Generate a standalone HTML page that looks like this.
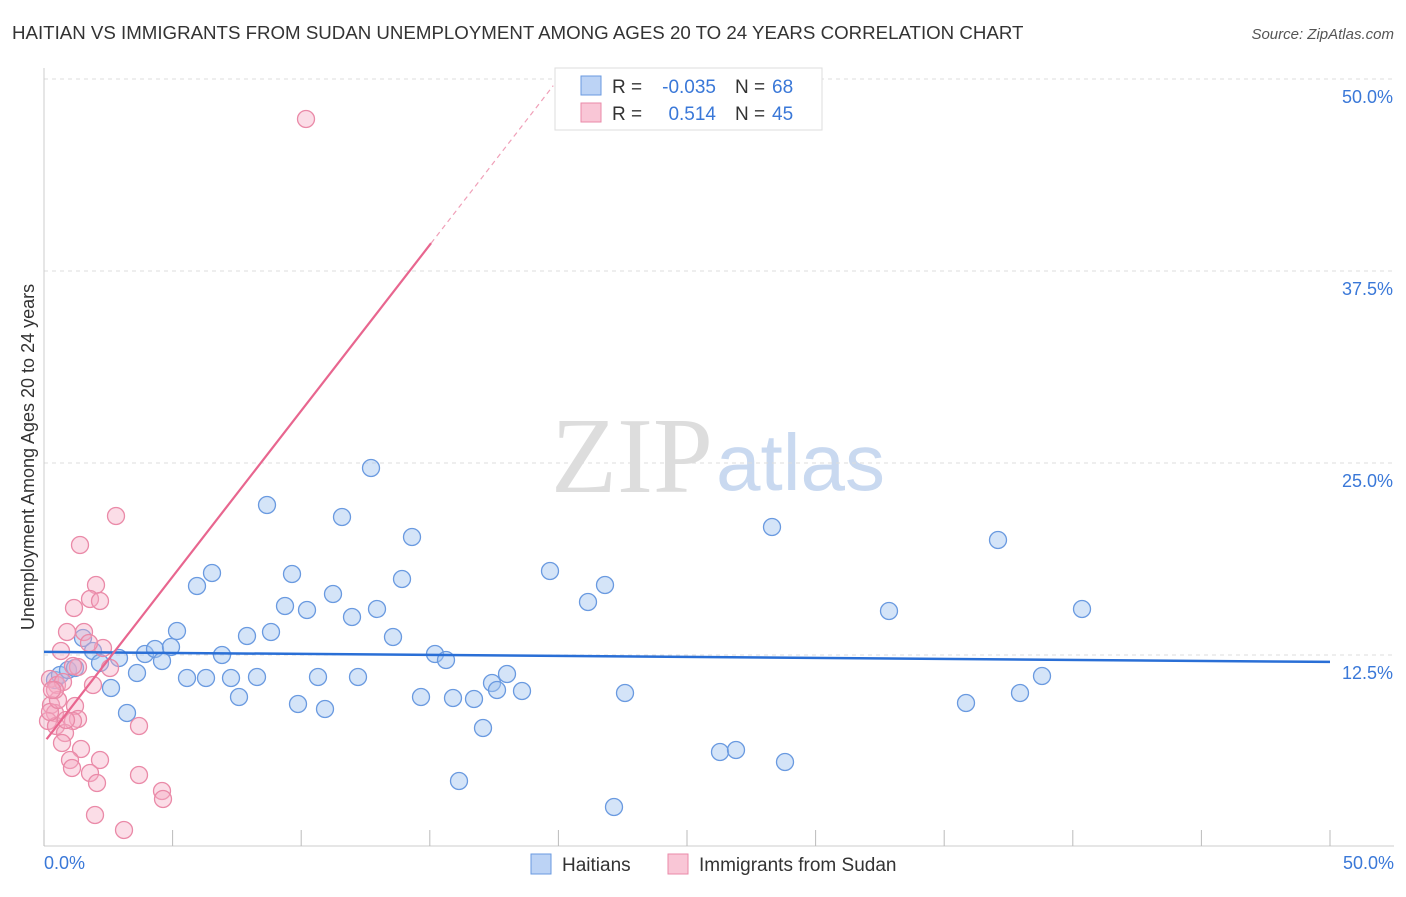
<!DOCTYPE html>
<html><head><meta charset="utf-8"><style>
body{margin:0;background:#fff;font-family:"Liberation Sans",sans-serif;}
svg text{font-family:"Liberation Sans",sans-serif;}
</style></head><body>
<svg id="c" width="1406" height="892">
<text x="12" y="39" font-size="18.7" fill="#333">HAITIAN VS IMMIGRANTS FROM SUDAN UNEMPLOYMENT AMONG AGES 20 TO 24 YEARS CORRELATION CHART</text>
<text x="1394" y="39" font-size="15" fill="#555" text-anchor="end" font-style="italic">Source: ZipAtlas.com</text>
<text x="713" y="492" font-size="108" fill="#ddd" text-anchor="end" style="font-family:'Liberation Serif',serif">ZIP</text>
<text x="716" y="490" font-size="80" fill="#c9d9f0">atlas</text>
<g id="grid"></g>
<g id="marks"></g>
<text transform="translate(34,457) rotate(-90)" font-size="18" fill="#333" text-anchor="middle">Unemployment Among Ages 20 to 24 years</text>
<text x="44" y="869" font-size="18" fill="#3a78d8">0.0%</text>
<text x="1394" y="869" font-size="18" fill="#3a78d8" text-anchor="end">50.0%</text>
<g>
<rect x="555" y="68" width="267" height="62" fill="#fff" stroke="#ddd"/>
<rect x="581" y="76" width="20" height="19" fill="#bcd3f5" stroke="#6a9ae0"/>
<rect x="581" y="103" width="20" height="19" fill="#f9c6d6" stroke="#ea8aa8"/>
<text x="612" y="93" font-size="19" fill="#333">R =</text>
<text x="716" y="93" font-size="19" fill="#3a78d8" text-anchor="end">-0.035</text>
<text x="735" y="93" font-size="19" fill="#333">N =</text>
<text x="772" y="93" font-size="19" fill="#3a78d8">68</text>
<text x="612" y="120" font-size="19" fill="#333">R =</text>
<text x="716" y="120" font-size="19" fill="#3a78d8" text-anchor="end">0.514</text>
<text x="735" y="120" font-size="19" fill="#333">N =</text>
<text x="772" y="120" font-size="19" fill="#3a78d8">45</text>
</g>
<g>
<rect x="531" y="854" width="20" height="20" fill="#bcd3f5" stroke="#6a9ae0"/>
<text x="562" y="871" font-size="19" fill="#333">Haitians</text>
<rect x="668" y="854" width="20" height="20" fill="#f9c6d6" stroke="#ea8aa8"/>
<text x="699" y="871" font-size="19" fill="#333">Immigrants from Sudan</text>
</g>
</svg>
<script>
const yTicks=[12.5,25,37.5,50];
const yTickLabels=["12.5%","25.0%","37.5%","50.0%"];
const xTicks=[0,5,10,15,20,25,30,35,40,45,50];
const blueXpx=[55,60,68,75,83,93,100,111,119,127,137,145,155,162,171,177,187,197,206,212,222,231,239,247,257,267,271,285,292,298,307,318,325,333,342,352,358,371,377,393,402,412,421,435,446,453,459,474,483,492,497,507,522,550,588,605,614,625,720,736,772,785,889,966,998,1020,1042,1082];
const blueYpx=[680,675,670,668,638,651,663,688,658,713,673,654,649,661,647,631,678,586,678,573,655,678,697,636,677,505,632,606,574,704,610,677,709,594,517,617,677,468,609,637,579,537,697,654,660,698,781,699,728,683,690,674,691,571,602,585,807,693,752,750,527,762,611,703,540,693,676,609];
const pinkXpx=[306,116,80,96,90,100,74,67,84,61,103,89,78,73,50,57,93,63,51,75,55,48,78,73,56,65,139,62,81,70,100,72,90,139,97,162,163,95,124,50,58,66,55,110,52];
const pinkYpx=[119,516,545,585,599,601,608,632,632,651,648,643,667,666,679,685,685,682,705,706,713,721,719,721,726,733,726,743,749,760,760,768,773,775,783,791,799,815,830,712,700,720,690,668,690];
const X=v=>44+v/50*1286, Y=v=>847-v/12.5*192;
const pxToX=p=>(p-44)/1286*50, pxToY=p=>(847-p)/192*12.5;
const blueX=blueXpx.map(pxToX), blueY=blueYpx.map(pxToY);
const pinkX=pinkXpx.map(pxToX), pinkY=pinkYpx.map(pxToY);
const blueFit=[12.7,12.05], pinkFit=[6.8,114.8];
const NS="http://www.w3.org/2000/svg";
function mk(t,a,p){const e=document.createElementNS(NS,t);for(const k in a)e.setAttribute(k,a[k]);p.appendChild(e);return e;}
const g=document.getElementById('grid'), m=document.getElementById('marks');
yTicks.forEach((t,i)=>{
 const l=mk('line',{x1:44,x2:1394,y1:Y(t),y2:Y(t),stroke:'#ddd','stroke-dasharray':'4,4'},g);
 
 
 const tx=mk('text',{x:1393,y:Y(t)+24,'font-size':18,fill:'#3a78d8','text-anchor':'end'},g);
 tx.textContent=yTickLabels[i];
 
 
});
const ax=mk('line',{x1:44,x2:1394,y1:846,y2:846,stroke:'#ccc'},g);


const ay=mk('line',{x1:44,x2:44,y1:68,y2:846,stroke:'#ccc'},g);


xTicks.forEach(t=>{
 const l=mk('line',{x1:X(t),x2:X(t),y1:830,y2:846,stroke:'#bbb'},g);
 
 
});
blueX.forEach((v,i)=>{
 const c=mk('circle',{cx:X(v),cy:Y(blueY[i]),r:8.5,fill:'rgba(160,195,240,0.45)',stroke:'#6a9ae0','stroke-width':1.3},m);
 
 
});
pinkX.forEach((v,i)=>{
 const c=mk('circle',{cx:X(v),cy:Y(pinkY[i]),r:8.5,fill:'rgba(245,170,195,0.4)',stroke:'#ea8aa8','stroke-width':1.3},m);
 
 
});
const bl=mk('line',{x1:X(0),y1:Y(blueFit[0]),x2:X(50),y2:Y(blueFit[1]),stroke:'#2a6fd6','stroke-width':2.5},m);


const sl=v=>pinkFit[0]+(pinkFit[1]-pinkFit[0])*v/50;
const xs=0.1,xe=15.05,xd=19.8;
const pl=mk('line',{x1:X(xs),y1:Y(sl(xs)),x2:X(xe),y2:Y(sl(xe)),stroke:'#e8668f','stroke-width':2.2},m);


const pd=mk('line',{x1:X(xe),y1:Y(sl(xe)),x2:X(xd),y2:Y(sl(xd)),stroke:'#f0a0b8','stroke-width':1.2,'stroke-dasharray':'5,4'},m);


</script>
</body></html>
